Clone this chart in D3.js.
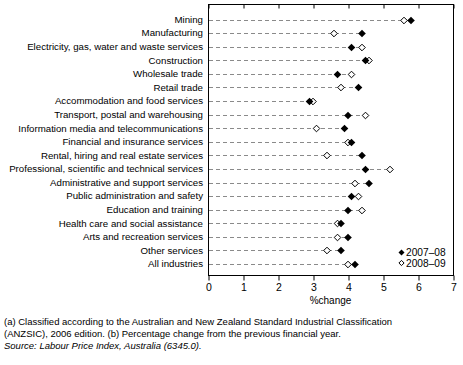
<!DOCTYPE html>
<html>
<head>
<meta charset="utf-8">
<script src="https://cdn.jsdelivr.net/npm/d3@7"></script>
<style>
html,body{margin:0;padding:0;background:#fff;}
svg{display:block;font-family:"Liberation Sans",Arial,sans-serif;}
</style>
</head>
<body>
<svg id="c" width="463" height="365"></svg>
<script>
const categories = [
  "Mining","Manufacturing","Electricity, gas, water and waste services","Construction",
  "Wholesale trade","Retail trade","Accommodation and food services",
  "Transport, postal and warehousing","Information media and telecommunications",
  "Financial and insurance services","Rental, hiring and real estate services",
  "Professional, scientific and technical services","Administrative and support services",
  "Public administration and safety","Education and training",
  "Health care and social assistance","Arts and recreation services","Other services",
  "All industries"
];
const values2007_08 = [5.8,4.4,4.1,4.5,3.7,4.3,2.9,4.0,3.9,4.1,4.4,4.5,4.6,4.1,4.0,3.8,4.0,3.8,4.2];
const values2008_09 = [5.6,3.6,4.4,4.6,4.1,3.8,3.0,4.5,3.1,4.0,3.4,5.2,4.2,4.3,4.4,3.7,3.7,3.4,4.0];
const seriesNames = ["2007–08","2008–09"];
const xTicks = [0,1,2,3,4,5,6,7];
const xTitle = "%change";
const footnotes = [
  "(a) Classified according to the Australian and New Zealand Standard Industrial Classification",
  "(ANZSIC), 2006 edition.  (b) Percentage change from the previous financial year."
];
const sourceText = "Source: Labour Price Index, Australia (6345.0).";

const svg = d3.select("#c");
const L = 208, R = 453, T = 4, B = 275;
const x = d3.scaleLinear().domain([0,7]).range([L,R]);
const y = d3.scalePoint().domain(categories).range([19.5,264]);

// frame
svg.append("rect").attr("x",L+0.5).attr("y",T+0.5).attr("width",R-L).attr("height",B-T)
  .attr("fill","none").attr("stroke","#000").attr("stroke-width",1);

// top ticks (inside)
const topAxis = d3.axisBottom(x).tickValues(xTicks).tickSize(4).tickFormat("");
svg.append("g").attr("transform",`translate(0.5,${T+0.5})`).call(topAxis)
  .call(g=>g.select(".domain").remove());
// bottom axis
const botAxis = d3.axisBottom(x).tickValues(xTicks).tickSize(5).tickPadding(3).tickFormat(d3.format("d"));
const gb = svg.append("g").attr("transform",`translate(0.5,${B+0.5})`).call(botAxis);
gb.select(".domain").remove();
gb.selectAll("text").attr("font-size","10.5px").attr("fill","#000").attr("font-family","Liberation Sans, Arial, sans-serif");

svg.append("text").attr("x",(L+R)/2).attr("y",304).attr("text-anchor","middle")
  .attr("font-size","10px").text(xTitle);

// category labels
svg.append("g").selectAll("text").data(categories).join("text")
  .attr("x",203).attr("y",d=>y(d)).attr("dy","0.35em").attr("text-anchor","end")
  .attr("font-size","9.7px").text(d=>d);

const rows = categories.map((c,i)=>({c,a:values2007_08[i],b:values2008_09[i]}));

// dashed leader lines
svg.append("g").selectAll("line").data(rows).join("line")
  .attr("x1",x(0)+1).attr("x2",d=>x(Math.max(d.a,d.b)))
  .attr("y1",d=>Math.round(y(d.c))+0.5).attr("y2",d=>Math.round(y(d.c))+0.5)
  .attr("stroke","#8a8a8a").attr("stroke-width",1).attr("stroke-dasharray","4,3");

const diamond = r => `M0,${-r}L${r},0L0,${r}L${-r},0Z`;
// open diamonds (2008-09)
svg.append("g").selectAll("path").data(rows).join("path")
  .attr("transform",d=>`translate(${x(d.b)},${Math.round(y(d.c))+0.5})`)
  .attr("d",diamond(3.3)).attr("fill","#fff").attr("stroke","#000").attr("stroke-width",1);
// filled diamonds (2007-08)
svg.append("g").selectAll("path").data(rows).join("path")
  .attr("transform",d=>`translate(${x(d.a)},${Math.round(y(d.c))+0.5})`)
  .attr("d",diamond(3.8)).attr("fill","#000");

// legend
const lg = svg.append("g");
[[252.5,true],[263,false]].forEach(([ly,filled],i)=>{
  lg.append("path").attr("transform",`translate(401.5,${ly})`)
    .attr("d",diamond(filled?3:2.6)).attr("fill",filled?"#000":"#fff")
    .attr("stroke","#000").attr("stroke-width",filled?0:1);
  lg.append("text").attr("x",406).attr("y",ly).attr("dy","0.35em")
    .attr("font-size","10.2px").text(seriesNames[i]);
});

// footnotes
footnotes.forEach((t,i)=>{
  svg.append("text").attr("x",4).attr("y",325+i*12).attr("font-size","9.5px").text(t);
});
svg.append("text").attr("x",4).attr("y",348.5).attr("font-size","9.5px")
  .attr("font-style","italic").text(sourceText);
</script>
</body>
</html>
